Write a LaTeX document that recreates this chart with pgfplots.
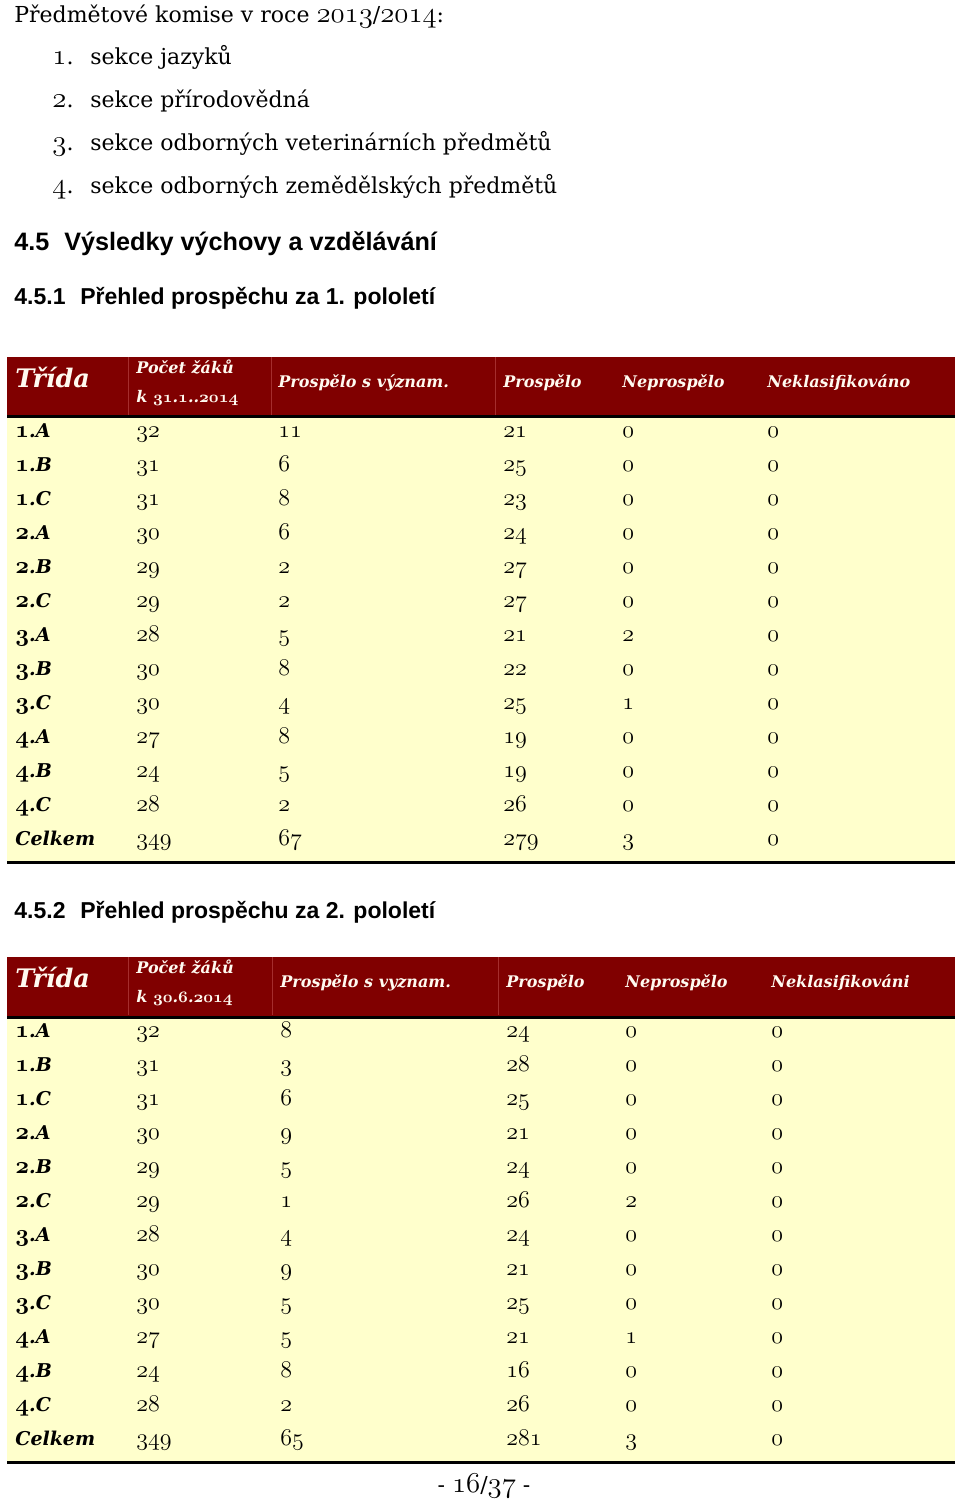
\documentclass[border=0pt]{standalone}
\usepackage{pgfplots}
\pgfplotsset{compat=1.18}
\usepackage{pgfplotstable}
\usepackage{fontspec}
\setmainfont{DejaVu Serif}
\newfontfamily\hsans{Liberation Sans}

\definecolor{hdr}{RGB}{128,0,0}
\definecolor{bodyfill}{RGB}{255,255,204}
\definecolor{sepline}{RGB}{165,45,45}
\definecolor{hdrtext}{RGB}{255,250,240}

% old style digits from the math italic font
\newcommand\osf[2]{{\fontsize{#1}{#1}\usefont{OML}{cmm}{m}{it}#2}}
\newcommand\osfb[2]{{\fontsize{#1}{#1}\usefont{OML}{cmm}{b}{it}#2}}
\def\labsplit#1#2\relax{\if C#1C#2\else\osfb{11.5}{#1}.#2\fi}
\newcommand\labfmt[1]{\expandafter\labsplit#1\relax}

% 1. pololeti
\pgfplotstableread{
r lab pocet vyz pros nepr nekl
1 1A 32 11 21 0 0
2 1B 31 6 25 0 0
3 1C 31 8 23 0 0
4 2A 30 6 24 0 0
5 2B 29 2 27 0 0
6 2C 29 2 27 0 0
7 3A 28 5 21 2 0
8 3B 30 8 22 0 0
9 3C 30 4 25 1 0
10 4A 27 8 19 0 0
11 4B 24 5 19 0 0
12 4C 28 2 26 0 0
13 Celkem 349 67 279 3 0
}\prvni

% 2. pololeti
\pgfplotstableread{
r lab pocet vyz pros nepr nekl
1 1A 32 8 24 0 0
2 1B 31 3 28 0 0
3 1C 31 6 25 0 0
4 2A 30 9 21 0 0
5 2B 29 5 24 0 0
6 2C 29 1 26 2 0
7 3A 28 4 24 0 0
8 3B 30 9 21 0 0
9 3C 30 5 25 0 0
10 4A 27 5 21 1 0
11 4B 24 8 16 0 0
12 4C 28 2 26 0 0
13 Celkem 349 65 281 3 0
}\druhy

\pgfplotsset{
  cell/.style={draw=none, mark=none, forget plot, point meta=explicit symbolic,
    nodes near coords, nodes near coords style={anchor=base west, inner sep=0pt, text=black}},
  cellnum/.style={cell, nodes near coords={\osf{12.5}{\pgfplotspointmeta}}},
  celllab/.style={cell, nodes near coords={\labfmt{\pgfplotspointmeta}},
    nodes near coords style={font=\fontsize{9.5}{11}\selectfont\bfseries\itshape}},
}

\begin{document}
\begin{tikzpicture}
\begin{axis}[
  scale only axis, width=480pt, height=749.5pt,
  xmin=0, xmax=960, ymin=0, ymax=1499, y dir=reverse,
  hide axis, clip=false,
  ]
  \fill[white] (axis cs:0,0) rectangle (axis cs:960,1499);

  % text above the tables
  \begin{scope}[every node/.style={anchor=base west, inner sep=0pt, font=\fontsize{11}{14}\selectfont}]
    \node at (axis cs:14,23) {Předmětové komise v roce \osf{14}{2013}/\osf{14}{2014}:};
    \node at (axis cs:52,64) {\osf{14}{1}.};
    \node at (axis cs:90,64) {sekce jazyků};
    \node at (axis cs:52,107) {\osf{14}{2}.};
    \node at (axis cs:90,107) {sekce přírodovědná};
    \node at (axis cs:52,150) {\osf{14}{3}.};
    \node at (axis cs:90,150) {sekce odborných veterinárních předmětů};
    \node at (axis cs:52,193) {\osf{14}{4}.};
    \node at (axis cs:90,193) {sekce odborných zemědělských předmětů};
    \node at (axis cs:484,1492) [anchor=base] {- \osf{14}{16}/\osf{14}{37} -};
  \end{scope}
  \begin{scope}[every node/.style={anchor=base west, inner sep=0pt, font=\fontsize{11.5}{15}\selectfont\hsans\bfseries}]
    \node[font=\fontsize{12.6}{15}\selectfont\hsans\bfseries] at (axis cs:14,250) {4.5};
    \node[font=\fontsize{12.6}{15}\selectfont\hsans\bfseries] at (axis cs:64,250) {Výsledky výchovy a vzdělávání};
    \node at (axis cs:14,304) {4.5.1};
    \node at (axis cs:80,304) {Přehled prospěchu za 1. pololetí};
    \node at (axis cs:14,918) {4.5.2};
    \node at (axis cs:80,918) {Přehled prospěchu za 2. pololetí};
  \end{scope}

  % table frames
  \fill[hdr] (axis cs:7,357) rectangle (axis cs:955,416);
  \fill[bodyfill] (axis cs:7,416) rectangle (axis cs:955,862);
  \fill[hdr] (axis cs:7,957) rectangle (axis cs:955,1016);
  \fill[bodyfill] (axis cs:7,1016) rectangle (axis cs:955,1462);
  \begin{scope}[sepline, line width=0.5pt]
    \draw (axis cs:128,357) -- (axis cs:128,415);
    \draw (axis cs:271,357) -- (axis cs:271,415);
    \draw (axis cs:495,357) -- (axis cs:495,415);
    \draw (axis cs:128,957) -- (axis cs:128,1015);
    \draw (axis cs:272,957) -- (axis cs:272,1015);
    \draw (axis cs:498,957) -- (axis cs:498,1015);
  \end{scope}
  \begin{scope}[black, line width=1.5pt]
    \draw (axis cs:7,416.5) -- (axis cs:955,416.5);
    \draw (axis cs:7,862.5) -- (axis cs:955,862.5);
    \draw (axis cs:7,1017.5) -- (axis cs:955,1017.5);
    \draw (axis cs:7,1462.5) -- (axis cs:955,1462.5);
  \end{scope}

  % header texts
  \begin{scope}[every node/.style={anchor=base west, inner sep=0pt, text=hdrtext, font=\fontsize{8}{10}\selectfont\bfseries\itshape}]
    \node[font=\fontsize{12.75}{15}\selectfont\bfseries\itshape] at (axis cs:15,387) {Třída};
    \node at (axis cs:136,373) {Počet žáků};
    \node at (axis cs:136,402) {k \osfb{8.5}{31}.\osfb{8.5}{1}..\osfb{8.5}{2014}};
    \node at (axis cs:278,387) {Prospělo s význam.};
    \node at (axis cs:503,387) {Prospělo};
    \node at (axis cs:622,387) {Neprospělo};
    \node at (axis cs:767,387) {Neklasifikováno};
    \node[font=\fontsize{12.75}{15}\selectfont\bfseries\itshape] at (axis cs:15,987) {Třída};
    \node at (axis cs:136,973) {Počet žáků};
    \node at (axis cs:136,1002) {k \osfb{8.5}{30}.\osfb{8.5}{6}.\osfb{8.5}{2014}};
    \node at (axis cs:280,987) {Prospělo s vyznam.};
    \node at (axis cs:506,987) {Prospělo};
    \node at (axis cs:625,987) {Neprospělo};
    \node at (axis cs:771,987) {Neklasifikováni};
  \end{scope}

  % table 1 cells
  \addplot[celllab] table[x expr=15, y expr={437+34*(\thisrow{r}-1)}, meta=lab] {\prvni};
  \addplot[cellnum] table[x expr=136, y expr={437+34*(\thisrow{r}-1)}, meta=pocet] {\prvni};
  \addplot[cellnum] table[x expr=278, y expr={437+34*(\thisrow{r}-1)}, meta=vyz] {\prvni};
  \addplot[cellnum] table[x expr=503, y expr={437+34*(\thisrow{r}-1)}, meta=pros] {\prvni};
  \addplot[cellnum] table[x expr=622, y expr={437+34*(\thisrow{r}-1)}, meta=nepr] {\prvni};
  \addplot[cellnum] table[x expr=767, y expr={437+34*(\thisrow{r}-1)}, meta=nekl] {\prvni};

  % table 2 cells
  \addplot[celllab] table[x expr=15, y expr={1037+34*(\thisrow{r}-1)}, meta=lab] {\druhy};
  \addplot[cellnum] table[x expr=136, y expr={1037+34*(\thisrow{r}-1)}, meta=pocet] {\druhy};
  \addplot[cellnum] table[x expr=280, y expr={1037+34*(\thisrow{r}-1)}, meta=vyz] {\druhy};
  \addplot[cellnum] table[x expr=506, y expr={1037+34*(\thisrow{r}-1)}, meta=pros] {\druhy};
  \addplot[cellnum] table[x expr=625, y expr={1037+34*(\thisrow{r}-1)}, meta=nepr] {\druhy};
  \addplot[cellnum] table[x expr=771, y expr={1037+34*(\thisrow{r}-1)}, meta=nekl] {\druhy};
\end{axis}
\end{tikzpicture}
\end{document}
